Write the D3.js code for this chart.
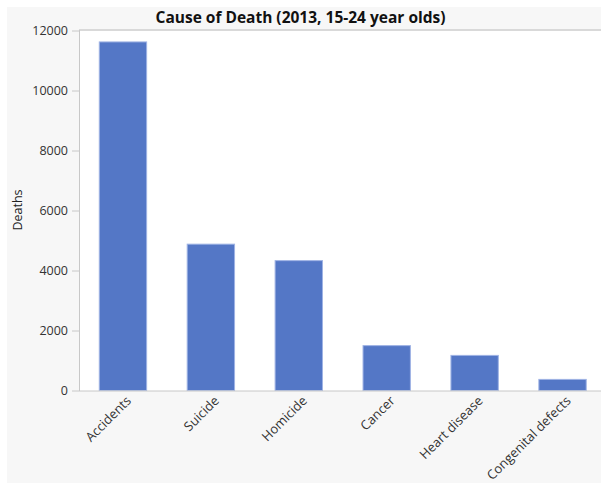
<!DOCTYPE html>
<html><head><meta charset="utf-8">
<script src="https://cdn.jsdelivr.net/npm/d3@7"></script>
<style>body{margin:0;background:#fff}svg{display:block}</style>
</head><body>
<script>
const categories = ["Accidents","Suicide","Homicide","Cancer","Heart disease","Congenital defects"];
const deaths = [11619, 4878, 4329, 1496, 1170, 370];
const yTicks = [0, 2000, 4000, 6000, 8000, 10000, 12000];
const title = "Cause of Death (2013, 15-24 year olds)";
const yLabel = "Deaths";

const W = 601, H = 483;
const m = {l: 79, t: 30, b: 391};
const font = "'Open Sans', 'Noto Sans', sans-serif";
const svg = d3.select("body").append("svg").attr("width", W).attr("height", H);
svg.append("rect").attr("x", 7).attr("y", 7).attr("width", W - 7).attr("height", H - 7).attr("fill", "#f7f7f7");
svg.append("rect").attr("x", m.l).attr("y", m.t).attr("width", W - m.l).attr("height", m.b - m.t).attr("fill", "#fff");
svg.append("line").attr("x1", m.l).attr("x2", W).attr("y1", m.t).attr("y2", m.t).attr("stroke", "#d9d9d9").attr("stroke-width", 2);

const x = d3.scaleBand().domain(categories).range([m.l, 606.5]).paddingInner(0.45).paddingOuter(0.225);
const y = d3.scaleLinear().domain([0, 12000]).range([390.5, 30.5]);

svg.append("g").selectAll("rect").data(categories).join("rect")
  .attr("x", d => x(d) + 0.5)
  .attr("y", (d, i) => y(deaths[i]))
  .attr("width", x.bandwidth() - 1)
  .attr("height", (d, i) => y(0) - y(deaths[i]))
  .attr("fill", "#5477c6").attr("stroke", "#9fb3e4").attr("stroke-width", 1);

const ya = svg.append("g").attr("transform", `translate(${m.l},0)`)
  .call(d3.axisLeft(y).tickValues(yTicks).tickFormat(d3.format("d")).tickSize(7).tickPadding(4).tickSizeOuter(0));
ya.select(".domain").attr("stroke", "#c8c8c8").attr("d", `M0.5,${m.t}V${m.b}`);
ya.selectAll(".tick line").attr("stroke", "#c8c8c8");
ya.selectAll(".tick text").attr("font-family", font).attr("font-size", 12.5).attr("fill", "#333");

const xa = svg.append("g").attr("transform", `translate(0,${m.b - 0.5})`)
  .call(d3.axisBottom(x).tickSize(0).tickSizeOuter(0));
xa.select(".domain").attr("stroke", "#c8c8c8").attr("d", `M${m.l},0.5H${W}`);
xa.selectAll(".tick text").attr("font-family", font).attr("font-size", 13).attr("fill", "#333")
  .attr("text-anchor", "end").attr("dy", null).attr("y", 0)
  .attr("transform", "translate(9,11) rotate(-45)");

svg.append("text").attr("x", 300.5).attr("y", 23).attr("text-anchor", "middle")
  .attr("font-family", font).attr("font-size", 15.5).attr("font-weight", "bold").attr("fill", "#111").text(title);
svg.append("text").attr("transform", "translate(22,210) rotate(-90)").attr("text-anchor", "middle")
  .attr("font-family", font).attr("font-size", 12.5).attr("fill", "#222").text(yLabel);
</script>
</body></html>
